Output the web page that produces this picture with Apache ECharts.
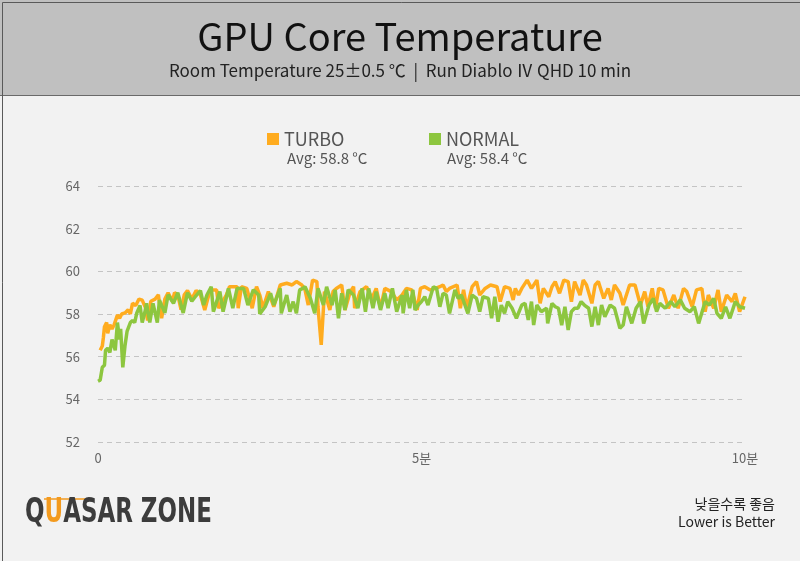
<!DOCTYPE html>
<html>
<head>
<meta charset="utf-8">
<script src="https://cdn.jsdelivr.net/npm/echarts@6/dist/echarts.min.js"></script>
<style>
html,body{margin:0;padding:0;background:#f2f2f2;}
#c{width:800px;height:561px;}
</style>
</head>
<body>
<div id="c"></div>
<script>
// ---- data (time in seconds, temperature in °C) ----
var seriesNames = ['TURBO', 'NORMAL'];
var avgLabels = ['Avg: 58.8 °C', 'Avg: 58.4 °C'];
var yTicks = [52, 54, 56, 58, 60, 62, 64];
var xTickLabels = {0: '0', 300: '5분', 600: '10분'};

var turboTime = [2,4,5,6,8,9,11,13,15,18,20,22,25,28,30,32,35,38,41,44,46,49,53,56,57,59,62,65,69,71,74,77,80,83,87,91,95,99,104,110,112,119,122,129,130,133,138,143,147,150,153,158,163,169,175,180,184,189,192,195,199,203,204,207,210,215,218,221,226,229,234,237,238,243,249,254,258,262,266,272,277,282,286,291,296,299,303,308,313,317,320,323,326,333,336,339,342,347,351,354,359,364,370,373,377,382,385,387,390,393,398,402,407,410,413,418,421,424,428,432,436,439,442,447,450,453,458,461,464,469,473,476,479,484,487,493,498,503,507,510,514,517,520,524,529,534,538,543,546,551,555,560,563,566,571,575,578,583,588,591,595,600];
var turboTemp = [56.3,56.5,56.9,57.4,57.6,57.1,57.5,57.3,57.5,57.95,57.8,58.0,58.05,58.2,58.0,58.5,58.4,58.7,58.65,58.3,57.7,58.6,58.7,58.9,58.5,57.8,58.7,59.0,58.6,59.0,58.9,58.2,58.9,59.1,58.7,59.1,58.9,58.19,59.13,59.13,58.27,58.89,59.28,59.28,58.27,59.28,59.2,58.27,59.28,58.89,58.27,59.05,58.34,59.36,59.44,59.36,59.52,59.36,59.13,58.42,59.59,59.52,58.34,56.55,59.05,58.19,59.05,59.2,59.36,58.19,59.05,59.28,58.27,59.05,59.28,58.73,59.2,58.27,59.2,59.05,58.66,58.89,59.2,59.13,58.19,59.2,59.28,59.13,59.2,59.28,59.36,59.05,59.2,59.36,58.27,59.13,58.27,59.28,59.52,58.89,59.2,59.36,59.28,58.58,59.28,59.2,58.66,59.2,58.89,59.2,59.59,59.2,59.59,58.5,59.2,58.81,59.28,59.52,58.97,59.59,59.52,58.58,59.52,58.89,59.59,59.36,58.5,59.36,59.52,58.73,59.2,58.66,59.36,58.97,58.42,59.36,59.36,58.42,59.05,58.34,59.2,58.27,59.2,59.13,58.27,58.89,58.27,59.2,59.05,58.34,59.13,59.2,58.11,58.89,58.27,59.13,58.11,58.89,58.58,58.97,58.11,58.81];

var normalTime = [0,2,4,6,7,9,11,13,16,18,20,21,23,25,27,30,32,34,36,39,41,44,45,48,51,55,57,62,65,70,74,79,83,87,90,95,98,101,105,107,113,116,121,125,129,135,139,144,149,150,155,160,163,169,170,175,178,181,184,187,190,192,197,201,204,209,212,217,220,223,226,229,232,237,241,245,248,251,255,258,262,266,269,273,277,282,283,286,289,292,294,297,300,303,306,311,314,317,320,323,326,331,334,337,343,347,351,354,357,362,365,368,371,374,377,380,384,388,393,396,399,402,404,407,411,416,417,421,424,427,430,433,436,439,442,445,448,451,455,458,461,464,467,470,475,479,484,487,490,495,499,503,506,511,515,518,521,526,531,535,540,544,549,553,557,563,567,571,574,578,582,586,591,595,600];
var normalTemp = [54.85,54.9,55.5,55.6,56.3,56.4,56.2,56.8,56.3,57.6,56.8,57.3,55.5,56.5,57.2,57.6,57.7,57.6,58.05,58.4,57.6,58.2,58.5,57.6,58.5,57.6,58.65,58.05,58.9,58.5,59.0,58.05,59.0,58.6,58.8,59.1,58.42,58.89,59.28,58.11,59.05,58.11,59.2,58.27,59.2,59.2,58.42,59.13,58.89,58.0,58.34,58.97,58.42,59.2,58.03,58.89,58.11,58.58,58.03,59.13,59.2,59.28,58.73,58.03,59.2,58.42,59.28,58.42,59.13,57.8,58.97,58.19,59.13,58.89,58.27,59.2,58.11,59.2,58.27,59.05,58.19,58.97,58.27,59.2,58.11,58.89,58.03,59.13,58.27,59.13,58.19,58.42,58.58,58.81,58.42,59.28,59.2,58.34,58.97,58.89,58.03,59.13,58.73,58.89,58.03,58.89,58.73,58.11,58.81,58.73,57.8,58.81,57.64,58.42,58.03,58.58,58.27,57.8,58.42,58.5,57.72,58.58,57.48,58.42,58.11,58.27,57.56,58.5,58.34,58.27,57.48,58.34,57.25,58.11,58.27,58.27,58.58,58.42,58.27,57.41,58.34,57.48,58.42,57.87,58.42,58.27,57.33,57.48,58.34,57.56,58.27,58.58,57.56,58.42,58.73,58.11,58.5,58.27,58.58,58.34,58.66,58.27,58.11,58.34,57.56,58.58,58.42,58.73,58.03,57.8,58.34,57.8,58.58,58.34,58.27];

function zip(t, v) { var out = []; for (var i = 0; i < t.length; i++) out.push([t[i], v[i]]); return out; }

var colors = ['#ffac1f', '#8dc63f'];
var FONT = '"Noto Sans CJK KR", "Noto Sans", sans-serif';
var LOGOFONT = 'bold 34px "DejaVu Sans Condensed", sans-serif';

var chart = echarts.init(document.getElementById('c'), null, {renderer: 'canvas'});
chart.setOption({
  backgroundColor: '#f2f2f2',
  animation: false,
  textStyle: {fontFamily: FONT},
  grid: {left: 98, right: 55, top: 186, bottom: 119, containLabel: false},
  legend: [
    {data: [seriesNames[0]], left: 262, top: 125, icon: 'rect', itemWidth: 12, itemHeight: 12, itemGap: 8,
     textStyle: {fontSize: 18, color: '#555', fontFamily: FONT}},
    {data: [seriesNames[1]], left: 424, top: 125, icon: 'rect', itemWidth: 12, itemHeight: 12, itemGap: 8,
     textStyle: {fontSize: 18, color: '#555', fontFamily: FONT}}
  ],
  xAxis: {
    type: 'value', min: 0, max: 600, interval: 300,
    axisLine: {show: false}, axisTick: {show: false}, splitLine: {show: false},
    axisLabel: {color: '#666', fontSize: 13, margin: 10, fontFamily: FONT,
      formatter: function (v) { return xTickLabels[v] !== undefined ? xTickLabels[v] : ''; }}
  },
  yAxis: {
    type: 'value', min: yTicks[0], max: yTicks[yTicks.length - 1], interval: 2,
    axisLine: {show: false}, axisTick: {show: false},
    splitLine: {show: true, lineStyle: {color: '#c4c4c4', type: [5, 4], width: 1}},
    axisLabel: {color: '#666', fontSize: 13, margin: 18, fontFamily: FONT}
  },
  series: [
    {name: seriesNames[0], type: 'line', data: zip(turboTime, turboTemp), showSymbol: false, symbol: 'none',
     lineStyle: {width: 3.5, color: colors[0]}, itemStyle: {color: colors[0]}, z: 2},
    {name: seriesNames[1], type: 'line', data: zip(normalTime, normalTemp), showSymbol: false, symbol: 'none',
     lineStyle: {width: 3.5, color: colors[1]}, itemStyle: {color: colors[1]}, z: 3}
  ],
  graphic: [
    {type: 'rect', left: 0, top: 0, shape: {width: 800, height: 95}, style: {fill: '#c0c0c0'}, z: -1},
    {type: 'line', shape: {x1: 0, y1: 95.5, x2: 800, y2: 95.5}, style: {stroke: '#6a6a6a', lineWidth: 1}},
    {type: 'rect', left: 0, top: 0, shape: {x: 0.5, y: 0.5, width: 799, height: 560}, style: {fill: 'none', stroke: '#5a5a5a', lineWidth: 1}, z: 10},
    {type: 'text', x: 400, y: 37, style: {text: 'GPU Core Temperature', font: '38px ' + FONT, fill: '#111', textAlign: 'center', textVerticalAlign: 'middle'}},
    {type: 'text', x: 400, y: 71, style: {text: 'Room Temperature 25±0.5 ℃  |  Run Diablo Ⅳ QHD 10 min', font: '17px ' + FONT, fill: '#222', textAlign: 'center', textVerticalAlign: 'middle'}},
    {type: 'text', x: 287, y: 158, style: {text: avgLabels[0], font: '15px ' + FONT, fill: '#555', textAlign: 'left', textVerticalAlign: 'middle'}},
    {type: 'text', x: 447, y: 158, style: {text: avgLabels[1], font: '15px ' + FONT, fill: '#555', textAlign: 'left', textVerticalAlign: 'middle'}},
    {type: 'text', x: 775, y: 504, style: {text: '낮을수록 좋음', font: '14px ' + FONT, fill: '#222', textAlign: 'right', textVerticalAlign: 'middle'}},
    {type: 'text', x: 775, y: 522, style: {text: 'Lower is Better', font: '14px ' + FONT, fill: '#222', textAlign: 'right', textVerticalAlign: 'middle'}},
    {type: 'line', shape: {x1: 44, y1: 499, x2: 88, y2: 499}, style: {stroke: '#f39a1e', lineWidth: 1.5}},
    {type: 'text', x: 25, y: 513, scaleX: 0.75, scaleY: 1, style: {
      text: '{a|Q}{b|U}{a|ASAR ZONE}',
      rich: {
        a: {font: LOGOFONT, fill: '#3c3c3c'},
        b: {font: LOGOFONT, fill: '#f39a1e'}
      },
      textAlign: 'left', textVerticalAlign: 'middle'}}
  ]
});
</script>
</body>
</html>
